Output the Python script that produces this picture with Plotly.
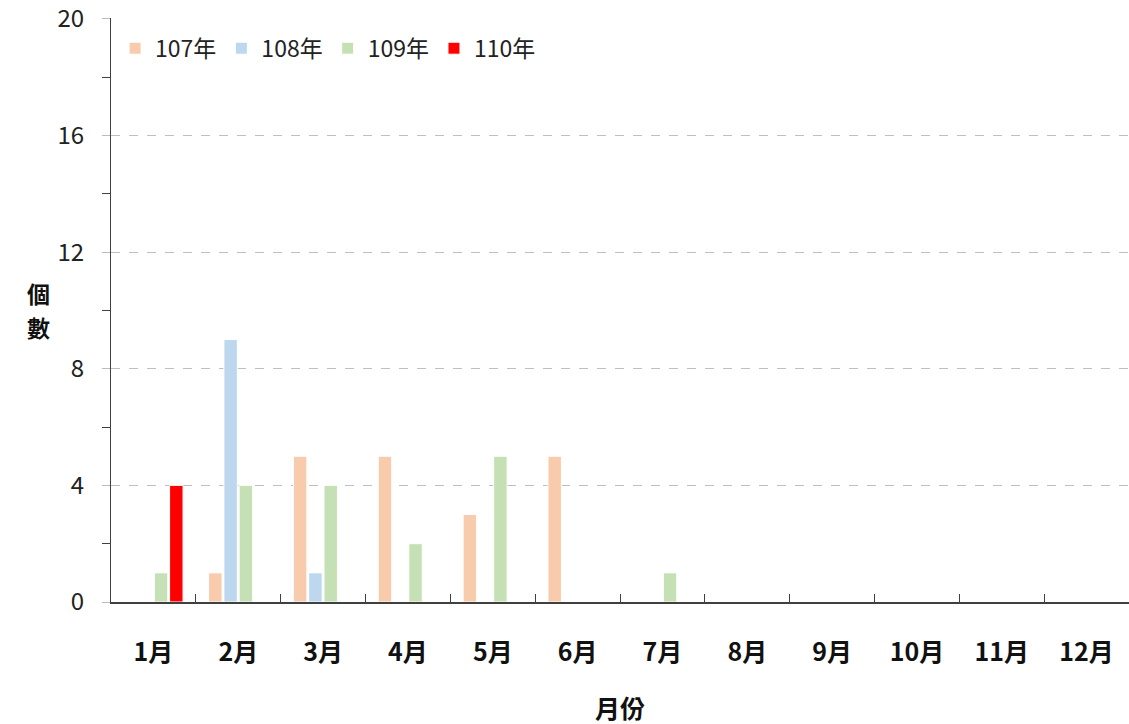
import plotly.graph_objects as go

months = ["1月", "2月", "3月", "4月", "5月", "6月", "7月", "8月", "9月", "10月", "11月", "12月"]
series_names = ["107年", "108年", "109年", "110年"]
v107 = [0, 1, 5, 5, 3, 5, 0, 0, 0, 0, 0, 0]
v108 = [0, 9, 1, 0, 0, 0, 0, 0, 0, 0, 0, 0]
v109 = [1, 4, 4, 2, 5, 0, 1, 0, 0, 0, 0, 0]
v110 = [4, 0, 0, 0, 0, 0, 0, 0, 0, 0, 0, 0]
colors = ["#F8CBAD", "#BDD7EE", "#C5E0B4", "#FF0000"]
y_ticks = [0, 4, 8, 12, 16, 20]
y_minor = [2, 6, 10, 14, 18]

FONT = "Noto Sans CJK TC"

fig = go.Figure()
for name, vals, col in zip(series_names, [v107, v108, v109, v110], colors):
    fig.add_trace(go.Bar(
        x=months, y=vals, name=name,
        marker=dict(color=col, line=dict(color="white", width=1)),
    ))

fig.update_layout(
    width=1129, height=724,
    margin=dict(l=111, r=0, t=18, b=122, autoexpand=False),
    paper_bgcolor="white", plot_bgcolor="white",
    barmode="group", bargap=0.28, bargroupgap=0.12,
    font=dict(family=FONT, color="#222222"),
    showlegend=True,
    legend=dict(
        orientation="h", x=0.004, y=0.985, xanchor="left", yanchor="top",
        font=dict(size=23, family=FONT, color="#222222"),
        bgcolor="rgba(0,0,0,0)", itemwidth=30, tracegroupgap=0,
    ),
    xaxis=dict(
        type="category", categoryorder="array", categoryarray=months,
        showline=True, linecolor="#404040", linewidth=1.5,
        ticks="inside", tickson="boundaries", ticklen=8, tickcolor="#404040",
        tickfont=dict(size=25, family=FONT, color="#111111", weight="bold"),
        ticklabelstandoff=27, automargin=False,
        showgrid=False,
    ),
    yaxis=dict(
        range=[0, 20.03], tickvals=y_ticks,
        showline=True, linecolor="#404040", linewidth=1.2,
        ticks="outside", ticklen=8, tickcolor="#BBBBBB",
        tickfont=dict(size=24, family=FONT, color="#222222"),
        ticklabelstandoff=13, ticklabeloverflow="allow", automargin=False,
        showgrid=True, gridcolor="#BFBFBF", griddash="dash", gridwidth=1.2,
        zeroline=False,
        minor=dict(tickvals=y_minor, ticks="outside", ticklen=8, tickcolor="#404040", showgrid=False),
    ),
)

for ch, yy in (("個", 0.529), ("數", 0.471)):
    fig.add_annotation(
        text="<b>" + ch + "</b>", xref="paper", yref="paper",
        x=-0.0845, y=yy, yanchor="middle", showarrow=False,
        font=dict(size=23, family=FONT, color="#111111"),
    )
fig.add_annotation(
    text="<b>月份</b>", xref="paper", yref="paper",
    x=0.5, y=0, yanchor="middle", yshift=-105, showarrow=False,
    font=dict(size=25, family=FONT, color="#111111"),
)

fig.write_html(
    "out.html",
    config={"displayModeBar": False},
    post_script="document.body.style.margin='0';document.body.style.overflow='hidden';",
)
